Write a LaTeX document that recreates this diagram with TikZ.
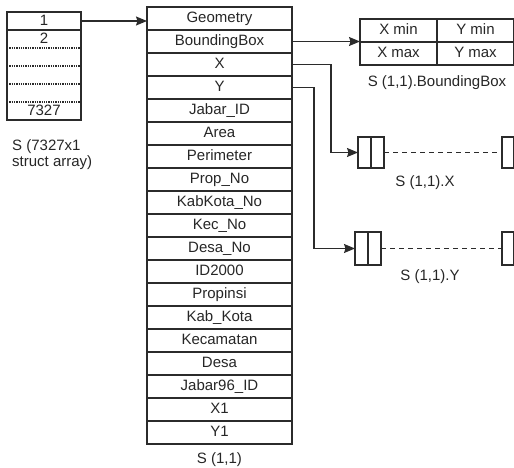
\documentclass[tikz,border=0pt]{standalone}
\usepackage{fontspec}
\setmainfont{Liberation Sans}
\usetikzlibrary{arrows.meta,positioning}
\definecolor{LineInk}{HTML}{2B2B2B}
\definecolor{TextInk}{HTML}{262626}
\tikzset{>={Stealth[length=11pt,width=9pt,inset=1.5pt]},every node/.style={font=\fontsize{15}{16}\selectfont,text=TextInk},
 field/.style={draw=LineInk,line width=1.3pt,minimum width=145pt,minimum height=23pt,
 inner sep=0pt,outer sep=0pt,text height=10.5pt,text depth=3pt},
 cell/.style={draw=LineInk,line width=1.3pt,minimum width=74pt,minimum height=18pt,
 inner sep=0pt,outer sep=0pt,text height=10.5pt,text depth=2pt},
 bbcell/.style={draw=LineInk,line width=1.3pt,minimum width=77pt,minimum height=23pt,
 inner sep=0pt,outer sep=0pt,text height=10.5pt,text depth=3pt},
 slot/.style={draw=LineInk,line width=1.3pt,minimum width=13pt,inner sep=0pt,outer sep=0pt},
 link/.style={draw=LineInk,line width=1.3pt},
 gap/.style={draw=LineInk,line width=1.3pt,dash pattern=on 5pt off 4pt}}
\begin{document}
\begin{tikzpicture}[x=1pt,y=-1pt]
\useasboundingbox (0,0) rectangle (514,468);
% struct array
\node[cell] (a1) at (44,21) {1};
\node[cell,draw=none,below=0pt of a1] (a2) {2};
\node[cell,draw=none,below=0pt of a2] (m1) {};
\node[cell,draw=none,below=0pt of m1] (m2) {};
\node[cell,draw=none,below=0pt of m2] (m3) {};
\node[cell,draw=none,below=0pt of m3] (aN) {7327};
\draw[link] (a1.south west)--(aN.south west)--(aN.south east)--(a1.south east);
\foreach \r in {a2,m1,m2,m3}
 \draw[link,densely dotted] (\r.south west)--(\r.south east);
\node[align=left,anchor=west,inner sep=0pt] (alabel) at (12,155) {S (7327x1\\struct array)};
% fields of S(1,1)
\foreach \name [count=\i] in {Geometry,BoundingBox,X,Y,Jabar\_ID,Area,Perimeter,Prop\_No,
 KabKota\_No,Kec\_No,Desa\_No,ID2000,Propinsi,Kab\_Kota,Kecamatan,Desa,Jabar96\_ID,X1,Y1}
 \node[field] (f\i) at (219.5,{7+23*(\i-0.5)}) {\name};
\node[inner sep=0pt,below=8pt of f19] (flabel) {S (1,1)};
% bounding box
\node[bbcell] (bb1) at (398.5,30.5) {X min};
\node[bbcell,right=0pt of bb1] (bb2) {Y min};
\node[bbcell,below=0pt of bb1] (bb3) {X max};
\node[bbcell,right=0pt of bb3] (bb4) {Y max};
\node[inner sep=0pt,below=10pt of bb3.south east] (bblabel) {S (1,1).BoundingBox};
% X and Y vectors
\node[slot,minimum height=31pt] (xa) at (364.5,152.5) {};
\node[slot,minimum height=31pt,right=0pt of xa] (xb) {};
\node[slot,minimum height=31pt,minimum width=11.5pt] (xe) at (507.75,152.5) {};
\node[inner sep=0pt] (xlabel) at (425,183) {S (1,1).X};
\node[slot,minimum height=33pt] (ya) at (361.5,248.5) {};
\node[slot,minimum height=33pt,right=0pt of ya] (yb) {};
\node[slot,minimum height=33pt,minimum width=11.5pt] (ye) at (507.75,248.5) {};
\node[inner sep=0pt] (ylabel) at (430,277) {S (1,1).Y};
% connectors
\draw[link,->] (a1.east)--(a1.east-|f1.west);
\draw[link,->] (f2.east)--(f2.east-|bb1.west);
\draw[link,->] (f3.east)--++(39,0)|-(xa.west);
\draw[link,->] (f4.east)--++(22,0)|-(ya.west);
\draw[gap] (xb.east)--(xe.west);
\draw[gap] (yb.east)--(ye.west);
\end{tikzpicture}
\end{document}
